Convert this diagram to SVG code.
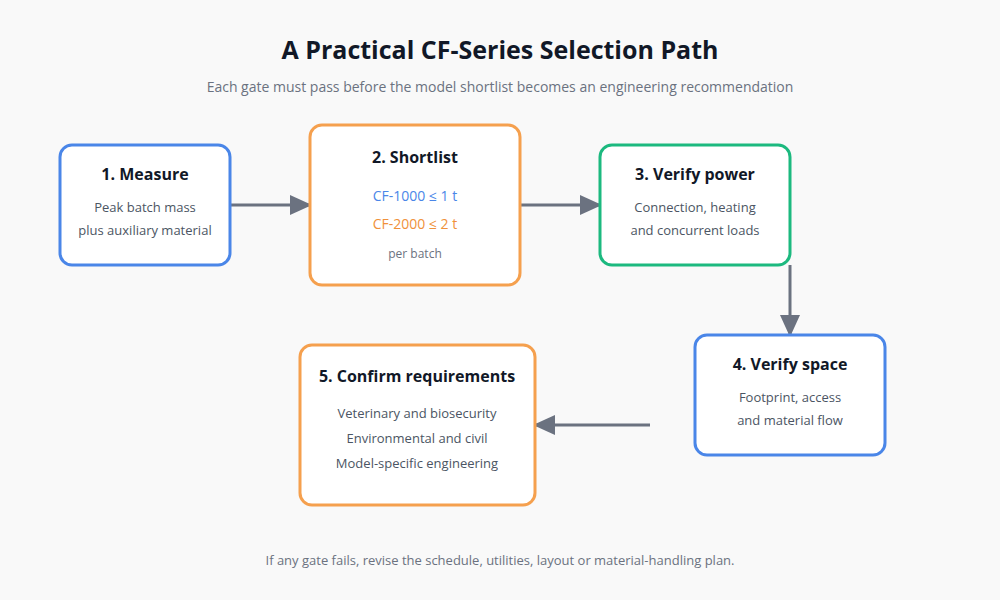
<svg xmlns="http://www.w3.org/2000/svg" width="1000" height="600" viewBox="0 0 1000 600">
<style>
text{font-family:"Open Sans","Noto Sans",sans-serif;text-anchor:middle}
.box{fill:#fff;stroke-width:3}
.b{stroke:#4a86e8}.o{stroke:#f5a04e}.g{stroke:#1cb97f}
.t{font-size:16px;font-weight:bold;fill:#111827}
.s{font-size:13px;fill:#4b5563}
.c{stroke:#6b7280;stroke-width:3;fill:none}
</style>
<defs><marker id="ah" markerWidth="8" markerHeight="8" refX="7" refY="4" orient="auto" markerUnits="userSpaceOnUse" viewBox="0 0 8 8"><path d="M0,0L8,4L0,8z" fill="#6b7280"/></marker>
<marker id="a" markerWidth="22" markerHeight="20" refX="20" refY="10" orient="auto" markerUnits="userSpaceOnUse"><path d="M0,0L22,10L0,20z" fill="#6b7280"/></marker></defs>
<rect width="1000" height="600" fill="#f9f9f9"/>
<text x="500" y="59" style="font-size:25px;font-weight:bold;fill:#111827">A Practical CF-Series Selection Path</text>
<text x="500" y="92" style="font-size:14px;fill:#6b7280">Each gate must pass before the model shortlist becomes an engineering recommendation</text>
<g id="connectors">
<path class="c" d="M230,205H310" marker-end="url(#a)"/>
<path class="c" d="M520,205H600" marker-end="url(#a)"/>
<path class="c" d="M790,265V335" marker-end="url(#a)"/>
<path class="c" d="M650,425H535" marker-end="url(#a)"/>
</g>
<g id="n1"><rect class="box b" x="60" y="145" width="170" height="120" rx="12"/>
<text class="t" x="145" y="180">1. Measure</text>
<text class="s" x="145" y="212">Peak batch mass</text><text class="s" x="145" y="235">plus auxiliary material</text></g>
<g id="n2"><rect class="box o" x="310" y="125" width="210" height="160" rx="12"/>
<text class="t" x="415" y="163">2. Shortlist</text>
<text class="s" x="415" y="201" style="fill:#4a86e8;font-size:14px">CF-1000 ≤ 1 t</text>
<text class="s" x="415" y="229" style="fill:#f0913a;font-size:14px">CF-2000 ≤ 2 t</text>
<text class="s" x="415" y="258" style="font-size:12px;fill:#6b7280">per batch</text></g>
<g id="n3"><rect class="box g" x="600" y="145" width="190" height="120" rx="12"/>
<text class="t" x="695" y="180">3. Verify power</text>
<text class="s" x="695" y="212">Connection, heating</text><text class="s" x="695" y="235">and concurrent loads</text></g>
<g id="n4"><rect class="box b" x="695" y="335" width="190" height="120" rx="12"/>
<text class="t" x="790" y="370">4. Verify space</text>
<text class="s" x="790" y="402">Footprint, access</text><text class="s" x="790" y="425">and material flow</text></g>
<g id="n5"><rect class="box o" x="300" y="345" width="235" height="160" rx="12"/>
<text class="t" x="417" y="382">5. Confirm requirements</text>
<text class="s" x="417" y="418">Veterinary and biosecurity</text>
<text class="s" x="417" y="443">Environmental and civil</text>
<text class="s" x="417" y="468">Model-specific engineering</text></g>
<text x="500" y="565" style="font-size:13px;fill:#6b7280">If any gate fails, revise the schedule, utilities, layout or material-handling plan.</text>
</svg>
